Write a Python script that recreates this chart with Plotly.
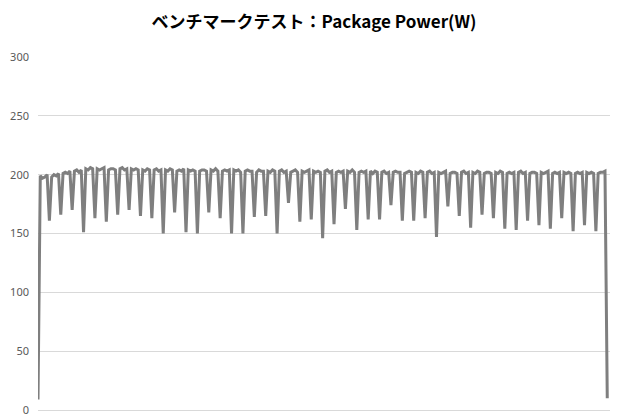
import plotly.graph_objects as go

# Package power samples (W), one sample per step
power_w = [
    9, 199, 197, 198, 200,
    161, 198, 200, 199, 201,
    166, 201, 202, 201, 203,
    170, 203, 204, 202, 204,
    151, 205, 204, 206, 205,
    163, 205, 204, 205, 206,
    160, 204, 205, 205, 204,
    166, 205, 206, 204, 205,
    170, 205, 204, 205, 204,
    165, 204, 203, 205, 204,
    163, 204, 205, 203, 204,
    150, 204, 203, 205, 204,
    168, 203, 204, 203, 205,
    151, 204, 203, 204, 203,
    150, 203, 204, 204, 203,
    168, 204, 203, 205, 203,
    163, 203, 204, 203, 204,
    150, 204, 203, 204, 202,
    150, 203, 204, 203, 203,
    164, 202, 204, 203, 203,
    165, 203, 202, 204, 203,
    150, 203, 204, 202, 203,
    176, 202, 203, 204, 202,
    160, 203, 202, 203, 204,
    162, 203, 202, 203, 202,
    146, 203, 204, 202, 203,
    158, 202, 203, 202, 203,
    171, 203, 202, 204, 202,
    153, 202, 203, 202, 203,
    162, 203, 201, 203, 202,
    162, 202, 203, 201, 202,
    174, 202, 203, 202, 202,
    161, 201, 202, 203, 202,
    161, 202, 201, 203, 202,
    163, 202, 203, 201, 202,
    147, 202, 201, 202, 203,
    173, 201, 202, 202, 201,
    165, 202, 203, 201, 202,
    155, 202, 201, 203, 202,
    166, 201, 202, 202, 201,
    163, 202, 201, 203, 202,
    154, 201, 202, 201, 202,
    153, 202, 203, 201, 202,
    161, 201, 202, 202, 201,
    157, 202, 201, 202, 203,
    154, 201, 202, 201, 202,
    163, 202, 201, 202, 201,
    152, 201, 202, 201, 202,
    157, 202, 201, 202, 201,
    152, 201, 202, 202, 203,
    10,
]
steps = list(range(len(power_w)))
y_ticks = [0, 50, 100, 150, 200, 250, 300]

fig = go.Figure()
fig.add_trace(go.Scatter(
    x=steps, y=power_w, mode="lines",
    line={"color": "#7f7f7f", "width": 3},
    showlegend=False, hoverinfo="skip",
))

# page body adds an 8px offset, so the figure is sized 8px smaller
fig.update_layout(
    width=612, height=412,
    paper_bgcolor="white", plot_bgcolor="white",
    margin={"l": 30, "r": 10, "t": 49, "b": 10},
    title={
        "text": "<b>ベンチマークテスト：Package Power(W)</b>",
        "x": 0.5, "xanchor": "center", "y": 0.966, "yanchor": "middle",
        "font": {"family": "Noto Sans CJK JP", "size": 17, "color": "#000000"},
    },
    font={"family": "Noto Sans", "size": 11, "color": "#595959"},
    xaxis={
        "range": [0, len(steps) + 0.2], "showgrid": False, "zeroline": False,
        "showticklabels": False, "showline": False, "ticks": "",
        "automargin": False,
    },
    yaxis={
        "range": [0, 300], "tickvals": y_ticks, "showgrid": True,
        "gridcolor": "#d9d9d9", "gridwidth": 1, "zeroline": True,
        "zerolinecolor": "#d9d9d9", "zerolinewidth": 1,
        "showline": False, "ticks": "", "ticklabelstandoff": 8,
        "automargin": False,
    },
)

fig.write_html("out.html")
